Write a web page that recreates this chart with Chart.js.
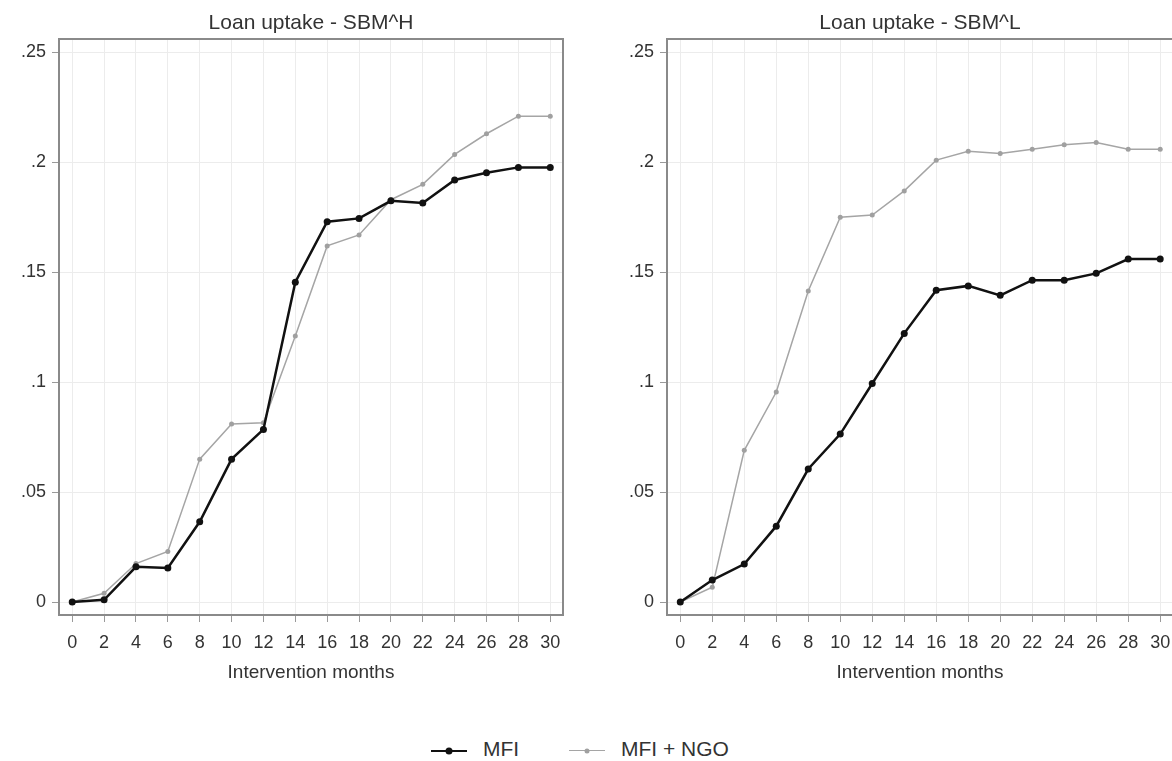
<!DOCTYPE html>
<html>
<head>
<meta charset="utf-8">
<script src="https://cdn.jsdelivr.net/npm/chart.js@4.4.1/dist/chart.umd.min.js"></script>
<style>
  body { margin: 0; background: #fff; width: 1172px; height: 761px; overflow: hidden; position: relative; font-family: "Liberation Sans", Arial, sans-serif; }
  .panel { position: absolute; top: 0; width: 580px; height: 700px; }
  #legend { position: absolute; top: 736px; left: 0; width: 1160px; text-align: center; font-size: 21px; color: #333; }
  .item { display: inline-block; margin: 0 22px; vertical-align: middle; }
  .sym { display: inline-block; position: relative; width: 36px; height: 10px; margin-right: 16px; vertical-align: middle; }
  .sym .ln { position: absolute; left: 0; right: 0; top: 50%; }
  .sym .dot { position: absolute; left: 50%; top: 50%; border-radius: 50%; transform: translate(-50%, -50%); }
</style>
</head>
<body>
<div class="panel" style="left:0"><canvas id="chartH"></canvas></div>
<div class="panel" style="left:608px"><canvas id="chartL"></canvas></div>
<div id="legend">
  <span class="item"><span class="sym"><span class="ln" style="border-top:2.5px solid #111;margin-top:-1px"></span><span class="dot" style="width:7px;height:7px;background:#111"></span></span>MFI</span>
  <span class="item"><span class="sym"><span class="ln" style="border-top:1.5px solid #a5a5a5;margin-top:-1px"></span><span class="dot" style="width:5px;height:5px;background:#a0a0a0"></span></span>MFI + NGO</span>
</div>
<script>
// intervention months
const months = [0, 2, 4, 6, 8, 10, 12, 14, 16, 18, 20, 22, 24, 26, 28, 30];

// SBM^H panel
const mfiH = [0, 0.001, 0.016, 0.0155, 0.0365, 0.065, 0.0785, 0.1455, 0.173, 0.1745, 0.1825, 0.1815, 0.192, 0.1953, 0.1977, 0.1977];
const ngoH = [0, 0.004, 0.0175, 0.023, 0.065, 0.081, 0.0815, 0.121, 0.162, 0.167, 0.183, 0.19, 0.2036, 0.213, 0.221, 0.221];

// SBM^L panel
const mfiL = [0, 0.01, 0.0173, 0.0345, 0.0605, 0.0764, 0.0994, 0.1222, 0.1418, 0.1438, 0.1395, 0.1464, 0.1464, 0.1495, 0.156, 0.156];
const ngoL = [0, 0.0067, 0.069, 0.0955, 0.1415, 0.175, 0.176, 0.187, 0.201, 0.205, 0.204, 0.206, 0.208, 0.209, 0.206, 0.206];

// y axis ticks, Stata style labels
const yTicks = [0, 0.05, 0.1, 0.15, 0.2, 0.25];
const yTickLabels = ["0", ".05", ".1", ".15", ".2", ".25"];

const FONT = "'Liberation Sans', Arial, sans-serif";

// full frame around the plot region
const boxPlugin = {
  id: "box",
  beforeDatasetsDraw(chart) {
    const { ctx, chartArea: a } = chart;
    ctx.save();
    ctx.strokeStyle = "#8a8a8a";
    ctx.lineWidth = 2;
    ctx.strokeRect(a.left, a.top, a.right - a.left, a.bottom - a.top);
    ctx.restore();
  },
};

function makeChart(id, title, mfi, ngo, padRight) {
  const ctx = document.getElementById(id).getContext("2d");
  return new Chart(ctx, {
    type: "line",
    data: {
      datasets: [
        {
          label: "MFI",
          data: months.map((m, i) => ({ x: m, y: mfi[i] })),
          borderColor: "#111",
          backgroundColor: "#111",
          borderWidth: 2.5,
          pointRadius: 3.5,
          pointBorderWidth: 0,
        },
        {
          label: "MFI + NGO",
          data: months.map((m, i) => ({ x: m, y: ngo[i] })),
          borderColor: "#a5a5a5",
          backgroundColor: "#a0a0a0",
          borderWidth: 1.5,
          pointRadius: 2.5,
          pointBorderWidth: 0,
        },
      ],
    },
    options: {
      responsive: true,
      maintainAspectRatio: false,
      animation: false,
      layout: { padding: { left: 0, right: padRight, top: 0, bottom: 15 } },
      scales: {
        x: {
          type: "linear",
          min: -0.83,
          max: 30.8,
          afterBuildTicks: (s) => { s.ticks = months.map((v) => ({ value: v })); },
          afterFit: (s) => { s.height = 70; },
          ticks: { font: { family: FONT, size: 18 }, color: "#333", padding: 10, maxRotation: 0 },
          grid: { color: "#ececec", lineWidth: 1, tickColor: "#9a9a9a", tickLength: 7 },
          border: { display: false },
          title: { display: true, text: "Intervention months", font: { family: FONT, size: 19 }, color: "#333", padding: { top: 0, bottom: 1 } },
        },
        y: {
          min: -0.0059,
          max: 0.2561,
          afterBuildTicks: (s) => { s.ticks = yTicks.map((v) => ({ value: v })); },
          afterFit: (s) => { s.width = 59; },
          ticks: {
            font: { family: FONT, size: 18 },
            color: "#333",
            padding: 6,
            callback: (v) => { const k = yTicks.indexOf(v); return k >= 0 ? yTickLabels[k] : ""; },
          },
          grid: { color: "#ececec", lineWidth: 1, tickColor: "#9a9a9a", tickLength: 7 },
          border: { display: false },
        },
      },
      plugins: {
        legend: { display: false },
        tooltip: { enabled: false },
        title: {
          display: true,
          text: title,
          fullSize: false,
          font: { family: FONT, size: 21, weight: "normal" },
          color: "#333",
          padding: { top: 11, bottom: 2.8 },
        },
      },
    },
    plugins: [boxPlugin],
  });
}

makeChart("chartH", "Loan uptake - SBM^H", mfiH, ngoH, 17);
makeChart("chartL", "Loan uptake - SBM^L", mfiL, ngoL, 15);
</script>
</body>
</html>
